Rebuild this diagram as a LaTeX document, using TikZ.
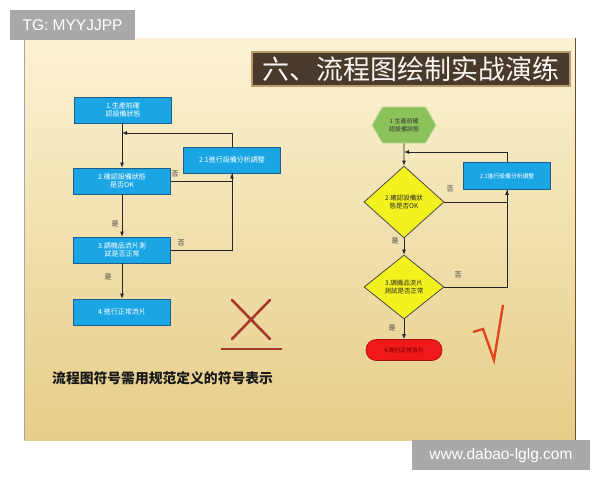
\documentclass[tikz,border=0pt]{standalone}
\usepackage{fontspec}
\setmainfont{Liberation Sans}
\newfontfamily\cjk{Noto Sans CJK TC}
\newfontfamily\cjksc{Noto Sans CJK SC}
\usetikzlibrary{arrows.meta,shapes.geometric,shapes.symbols}
\definecolor{slidetop}{HTML}{FCF3D4}
\definecolor{slidebot}{HTML}{E6CD88}
\definecolor{wmgray}{HTML}{A9A9A9}
\definecolor{titlebg}{HTML}{4A3A2C}
\definecolor{titleline}{HTML}{B89C6C}
\definecolor{boxblue}{HTML}{1AA6E4}
\definecolor{boxline}{HTML}{1F5E8C}
\definecolor{hexgreen}{HTML}{8CC25A}
\definecolor{diayellow}{HTML}{F4F21E}
\definecolor{endred}{HTML}{F01818}
\definecolor{crossred}{HTML}{A8382A}
\definecolor{tickred}{HTML}{E4451E}
\begin{document}
\begin{tikzpicture}[x=1pt,y=-1pt,
    arr/.style={-{Latex[length=5,width=4]}, line width=0.8, draw=black!85},
    link/.style={line width=0.8, draw=black!85},
    lbox/.style={draw=boxline, line width=0.8, fill=boxblue, minimum width=97,
      minimum height=26, inner sep=1, align=center, text=white,
      font=\cjk\fontsize{7}{8.5}\selectfont},
    rbox/.style={lbox, minimum width=87, minimum height=27,
      font=\cjk\fontsize{5.8}{7}\selectfont},
    hexa/.style={signal, signal to=east and west, signal pointer angle=120,
      draw=hexgreen!60!white, line width=0.8, fill=hexgreen, minimum width=64,
      minimum height=36, inner sep=0, align=center, text=black!80,
      font=\cjk\fontsize{6}{7.5}\selectfont},
    dia/.style={diamond, draw=black!70, line width=0.8, fill=diayellow,
      minimum width=80, minimum height=72, inner sep=0, align=center,
      text=black!85, font=\cjk\fontsize{6.5}{8}\selectfont},
    term/.style={draw=endred!70!black, line width=0.6, fill=endred,
      rounded corners=10, minimum width=76, minimum height=21, inner sep=0,
      text=red!40!black, font=\cjk\fontsize{5.8}{7}\selectfont},
    yn/.style={text=black!75, inner sep=0, font=\cjk\fontsize{7}{8}\selectfont},
    wm/.style={fill=wmgray, text=white, inner sep=0,
      font=\fontsize{15.5}{16}\selectfont}]
  \useasboundingbox (0,0) rectangle (600,480);
  \fill[white] (0,0) rectangle (600,480);
  % slide
  \shade[top color=slidetop, bottom color=slidebot] (24,38) rectangle (575,440);
  \draw[black!35, line width=0.6] (24,38) -- (24,440);
  \draw[brown!60!black, line width=0.8] (575,38) -- (575,440);
  % watermarks
  \node[wm, minimum width=125, minimum height=30] (tg) at (72.5,25) {TG: MYYJJPP};
  \node[wm, minimum width=178, minimum height=30] (web) at (501,455) {www.dabao-lglg.com};
  % title
  \node[fill=titlebg, draw=titleline, line width=1.5, minimum width=318,
    minimum height=34, inner sep=0, text=white!92!brown,
    font=\cjksc\fontsize{27}{28}\selectfont] (title) at (411,69) {六、流程图绘制实战演练};

  % left chart
  \node[lbox] (l1) at (123,110) {1.生產前確\\認設備狀態};
  \node[lbox] (l2) at (122,181) {2.確認設備狀態\\是否OK};
  \node[lbox] (l21) at (232,160) {2.1進行設備分析調整};
  \node[lbox] (l3) at (122,250) {3.調機品流片測\\試是否正常};
  \node[lbox] (l4) at (122,312) {4.進行正常流片};
  \coordinate (lj) at (122,133);
  \draw[arr] (l1.south -| l2) -- (l2);
  \draw[arr] (l21.north) |- (lj);
  \draw[arr] (l2.east) -| (l21.south);
  \draw[link] (l3.east) -| (l21.south);
  \draw[arr] (l2) -- (l3);
  \draw[arr] (l3) -- (l4);
  \node[yn] (ln1) at (175,174) {否};
  \node[yn] (ln2) at (181,243) {否};
  \node[yn] (ly1) at (115,224) {是};
  \node[yn] (ly2) at (108,277) {是};
  % wrong mark
  \draw[crossred, line width=2.6, line cap=round] (232,300) -- (270,339)
    (270,300) -- (232,339);
  \draw[crossred, line width=2.4] (221,349) -- (282,349);

  % right chart
  \node[hexa] (r1) at (404,125) {1.生產前確\\認設備狀態};
  \node[dia] (r2) at (404,202) {2.確認設備狀\\態是否OK};
  \node[rbox] (r21) at (507,176) {2.1進行設備分析調整};
  \node[dia, minimum height=64] (r3) at (404,287) {3.調機品流片\\測試是否正常};
  \node[term] (r4) at (404,350) {4.進行正常流片};
  \coordinate (rj) at (404,152);
  \draw[arr] (r1) -- (r2);
  \draw[arr] (r21.north) |- (rj);
  \draw[arr] (r2.east) -| (r21.south);
  \draw[link] (r3.east) -| (r21.south);
  \draw[arr] (r2) -- (r3);
  \draw[arr] (r3) -- (r4);
  \node[yn] (rn1) at (450,189) {否};
  \node[yn] (rn2) at (458,275) {否};
  \node[yn] (ry1) at (395,241) {是};
  \node[yn] (ry2) at (392,328) {是};
  % right mark
  \draw[tickred, line width=2.4, line join=miter] (473,332) -- (483,329)
    -- (494,360) -- (503,305);

  % note
  \node[anchor=west, inner sep=0, text=black!90,
    font=\cjksc\bfseries\fontsize{13.8}{15}\selectfont] (note) at (52,378)
    {流程图符号需用规范定义的符号表示};
\end{tikzpicture}
\end{document}
